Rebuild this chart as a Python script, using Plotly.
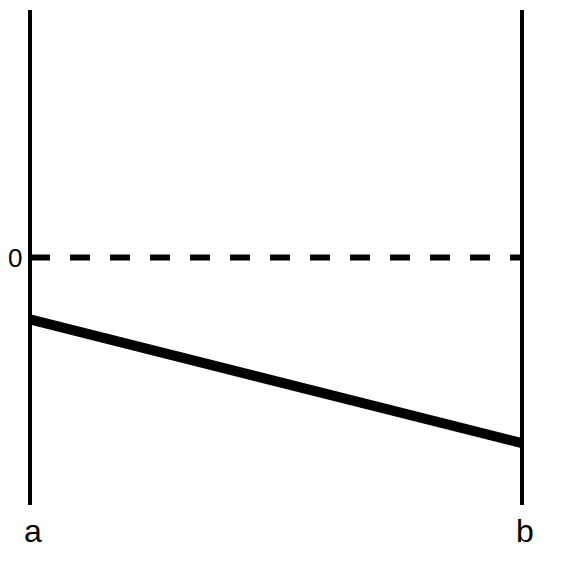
import plotly.graph_objects as go

categories = ["a", "b"]
values = [-0.25, -0.75]
axis_range = [-1, 1]
zero_value = 0
zero_label = "0"

FONT = "Liberation Sans, Arial, Helvetica, sans-serif"

fig = go.Figure()

# vertical axis lines for each category
for i, c in enumerate(categories):
    fig.add_trace(go.Scatter(
        x=[i, i], y=axis_range, mode="lines",
        line=dict(color="black", width=4), hoverinfo="skip", showlegend=False))

# dashed zero line
fig.add_trace(go.Scatter(
    x=[0, len(categories) - 1], y=[zero_value, zero_value], mode="lines",
    line=dict(color="black", width=6, dash="20px,20px"),
    hoverinfo="skip", showlegend=False))

# the series line
fig.add_trace(go.Scatter(
    x=list(range(len(categories))), y=values, mode="lines",
    line=dict(color="black", width=10), hoverinfo="skip", showlegend=False))

pad = 20 / 492
fig.update_layout(
    width=562, height=583,
    margin=dict(l=2, r=28, t=2, b=86),
    plot_bgcolor="white", paper_bgcolor="white",
    font=dict(family=FONT, color="black", size=30),
    xaxis=dict(range=[-pad, 1 + pad], tickvals=list(range(len(categories))),
               ticktext=categories, showgrid=False, zeroline=False,
               showline=False, ticks="", tickfont=dict(size=32),
               ticklabelstandoff=4, ticklabelshift=3),
    yaxis=dict(range=axis_range, showgrid=False, zeroline=False,
               showline=False, showticklabels=False, ticks=""),
    annotations=[dict(x=0, y=zero_value, xref="x", yref="y", text=zero_label,
                      showarrow=False, xanchor="right", yanchor="middle",
                      xshift=-7, borderpad=0, font=dict(size=26))],
)

fig.write_html("out.html")
